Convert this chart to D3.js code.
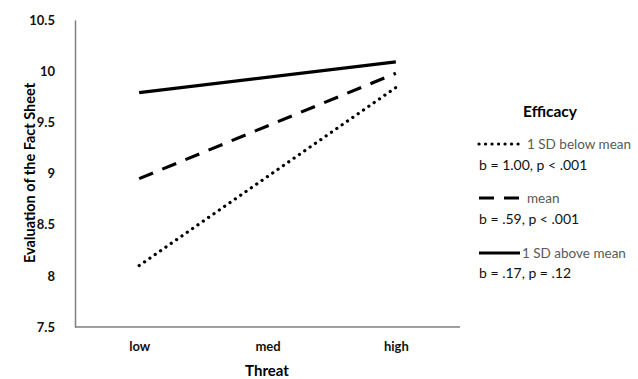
<!DOCTYPE html>
<html><head><meta charset="utf-8">
<script src="https://cdn.jsdelivr.net/npm/d3@7"></script>
<style>body{margin:0;background:#fff}svg{display:block}text{font-family:Lato,"Open Sans",sans-serif}</style>
</head><body><svg id="c" width="638" height="379"></svg>
<script>
const categories = ["low", "med", "high"];
const yTicks = [7.5, 8, 8.5, 9, 9.5, 10, 10.5];
const seriesNames = ["1 SD below mean", "mean", "1 SD above mean"];
const seriesStats = ["b = 1.00, p < .001", "b = .59, p < .001", "b = .17, p = .12"];
const lowValues = [8.10, 8.95, 9.79];
const highValues = [9.84, 9.98, 10.09];
const dashes = ["0.1,6.4", "15,10", null];

const svg = d3.select("#c");
const x = d3.scalePoint().domain(categories).range([75, 460]).padding(0.5);
const y = d3.scaleLinear().domain([7.5, 10.5]).range([327, 20]);

const axisColor = "#7f7f7f";
// y axis
const ya = svg.append("g").attr("transform", "translate(75,0)")
  .call(d3.axisLeft(y).tickValues(yTicks).tickSize(0).tickPadding(20).tickFormat(d3.format("")));
ya.select(".domain").attr("stroke", axisColor).attr("stroke-width", 1.5);
ya.selectAll("text").attr("font-size", 13).attr("font-weight", "bold").attr("fill", "#111")
  .style("font-family", "Lato, sans-serif");
// x axis
const xa = svg.append("g").attr("transform", "translate(0,327)")
  .call(d3.axisBottom(x).tickSize(0).tickPadding(15));
xa.select(".domain").attr("stroke", axisColor).attr("stroke-width", 1.5).attr("d", "M75,0H460");
xa.selectAll("text").attr("font-size", 13).attr("font-weight", "bold").attr("fill", "#111")
  .style("font-family", "Lato, sans-serif");

svg.append("text").attr("x", 267).attr("y", 376).attr("text-anchor", "middle")
  .attr("font-size", 15).attr("font-weight", "bold").text("Threat");
svg.append("text").attr("transform", "translate(35,173) rotate(-90)").attr("text-anchor", "middle")
  .attr("font-size", 14.5).attr("font-weight", "bold").text("Evaluation of the Fact Sheet");

// lines
seriesNames.forEach((s, i) => {
  const pts = [[categories[0], lowValues[i]], [categories[2], highValues[i]]];
  const p = svg.append("path")
    .attr("d", d3.line().x(d => x(d[0])).y(d => y(d[1]))(pts))
    .attr("fill", "none").attr("stroke", "#000").attr("stroke-width", 3.2);
  if (dashes[i]) p.attr("stroke-dasharray", dashes[i]);
  if (i === 0) p.attr("stroke-linecap", "round");
});

// legend
svg.append("text").attr("x", 550).attr("y", 117).attr("text-anchor", "middle")
  .attr("font-size", 15.5).attr("font-weight", "bold").text("Efficacy");
const ly = [144, 198, 253];
const sy = [165, 219, 273];
seriesNames.forEach((s, i) => {
  const l = svg.append("line").attr("x1", 479).attr("x2", 520).attr("y1", ly[i]).attr("y2", ly[i])
    .attr("stroke", "#000").attr("stroke-width", 3.2);
  if (dashes[i]) l.attr("stroke-dasharray", dashes[i]);
  if (i === 0) l.attr("stroke-linecap", "round");
  svg.append("text").attr("x", i === 2 ? 522 : 527).attr("y", ly[i] + 4.5).attr("font-size", 13.5)
    .attr("fill", "#595959").text(s);
  svg.append("text").attr("x", 479).attr("y", sy[i] + 5).attr("font-size", 14)
    .attr("fill", "#111").text(seriesStats[i]);
});
</script></body></html>
